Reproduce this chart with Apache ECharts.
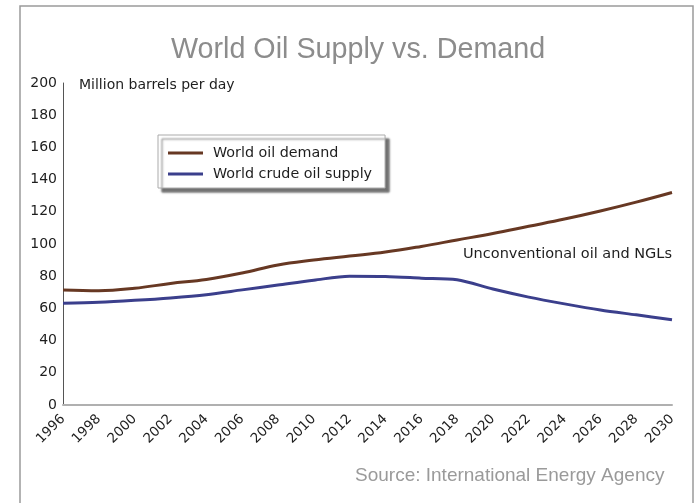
<!DOCTYPE html>
<html>
<head>
<meta charset="utf-8">
<script src="https://cdn.jsdelivr.net/npm/echarts@6/dist/echarts.min.js"></script>
<style>
html,body{margin:0;padding:0;background:#fff;}
#c{width:698px;height:503px;}
</style>
</head>
<body>
<div id="c"></div>
<script>
var years = [1996,1998,2000,2002,2004,2006,2008,2010,2012,2014,2016,2018,2020,2022,2024,2026,2028,2030];
var demand = [71.5,71,72.5,75.5,78,82,87,90,92.5,95,98.5,102.5,106.5,111,115.5,120.5,126,132];
var supply = [63.2,63.8,65,66.5,68.5,71.5,74.5,77.5,80,79.8,78.8,77.8,72,67,62.8,59,56,53];
var seriesNames = ['World oil demand','World crude oil supply'];
var titleText = 'World Oil Supply vs. Demand';
var unitText = 'Million barrels per day';
var noteText = 'Unconventional oil and NGLs';
var sourceText = 'Source: International Energy Agency';

var FONT = '"DejaVu Sans", Verdana, sans-serif';
var ARIAL = '"Liberation Sans", Arial, sans-serif';
var chart = echarts.init(document.getElementById('c'), null, {renderer:'canvas'});
function pairs(v){ return years.map(function(y,i){ return [y, v[i]]; }); }
chart.setOption({
  animation:false,
  backgroundColor:'#fff',
  title:{
    text:titleText, left:166, top:31,
    textStyle:{fontFamily:ARIAL, fontSize:28.7, fontWeight:'normal', color:'#8c8c8c'}
  },
  graphic:[
    {type:'rect', shape:{x:20,y:6,width:673,height:520}, style:{fill:'none', stroke:'#9a9a9a', lineWidth:1.5}, silent:true, z:-1},
    {type:'text', left:463, top:247, style:{text:noteText, fontFamily:FONT, fontSize:14.5, fill:'#1e1e1e'}},
    {type:'text', left:355, top:466, style:{text:sourceText, fontFamily:ARIAL, fontSize:19, fill:'#9a9a9a'}}
  ],
  legend:{
    orient:'vertical', left:158, top:135,
    padding:[10,13,6,10], itemGap:5,
    itemWidth:35, itemHeight:3, icon:'rect',
    backgroundColor:'#fff', borderColor:'#aaa', borderWidth:1,
    shadowColor:'rgba(0,0,0,0.55)', shadowOffsetX:4, shadowOffsetY:4, shadowBlur:2,
    textStyle:{fontFamily:FONT, fontSize:14.3, lineHeight:16, color:'#1e1e1e', padding:[0,0,0,5]},
    data:seriesNames
  },
  grid:{left:63, right:26, top:83, bottom:98, containLabel:false},
  xAxis:{
    type:'value', min:1996, max:2030, interval:2,
    axisLine:{show:true, lineStyle:{color:'#b0b0b0', width:2}},
    axisTick:{show:false},
    splitLine:{show:false},
    axisLabel:{rotate:45, margin:12, fontFamily:FONT, fontSize:13.5, color:'#1e1e1e', formatter:function(v){return String(v);}}
  },
  yAxis:{
    type:'value', min:0, max:200, interval:20,
    name:unitText, nameLocation:'end', nameGap:-2,
    nameTextStyle:{fontFamily:FONT, fontSize:14, color:'#1e1e1e', align:'left', verticalAlign:'middle', padding:[0,0,0,16]},
    axisLine:{show:true, lineStyle:{color:'#555', width:1}},
    axisTick:{show:false},
    splitLine:{show:false},
    axisLabel:{margin:6, fontFamily:FONT, fontSize:14, color:'#1e1e1e'}
  },
  series:[
    {name:seriesNames[0], type:'line', data:pairs(demand), smooth:0.4, showSymbol:false,
     lineStyle:{color:'#673823', width:3}, itemStyle:{color:'#673823'}},
    {name:seriesNames[1], type:'line', data:pairs(supply), smooth:0.3, showSymbol:false,
     lineStyle:{color:'#3b3f8c', width:3}, itemStyle:{color:'#3b3f8c'}}
  ]
});
</script>
</body>
</html>
